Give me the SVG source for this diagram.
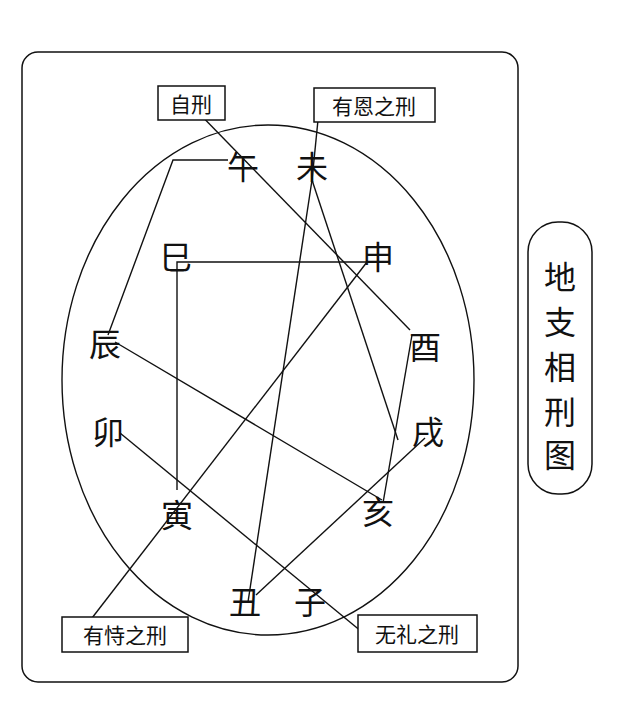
<svg xmlns="http://www.w3.org/2000/svg" width="640" height="708" viewBox="0 0 640 708">
<style>
.b{font-family:"Noto Sans CJK SC","Noto Sans CJK JP",sans-serif;font-size:32px;fill:#111;text-anchor:middle;dominant-baseline:central}
.l{font-family:"Noto Sans CJK SC",sans-serif;font-size:21px;fill:#111;text-anchor:middle;dominant-baseline:central}
.bx{fill:#fff;stroke:#111;stroke-width:1.5}
.c line,.c polyline{stroke:#111;stroke-width:1.4;fill:none}
</style>
<rect width="640" height="708" fill="#fff"/>
<rect x="22" y="52" width="496" height="630" rx="16" fill="none" stroke="#111" stroke-width="1.5"/>
<ellipse cx="268" cy="380" rx="206" ry="255" fill="none" stroke="#111" stroke-width="1.4"/>
<g id="title"><rect x="528" y="222" width="64" height="272" rx="30" class="bx"/>
<text class="b" x="560" y="275">地</text><text class="b" x="560" y="320">支</text><text class="b" x="560" y="365">相</text><text class="b" x="560" y="410">刑</text><text class="b" x="560" y="453">图</text></g>
<g class="c">
<line x1="190" y1="104" x2="410" y2="330"/>
<line x1="320" y1="100" x2="312" y2="180"/>
<line x1="312" y1="180" x2="248" y2="602"/>
<line x1="312" y1="180" x2="398" y2="440"/>
<line x1="425" y1="438" x2="256" y2="595"/>
<polyline points="177,490 177,262 370,262"/>
<line x1="367" y1="262" x2="92" y2="618"/>
<polyline points="108,335 173,160 228,160"/>
<line x1="115" y1="342" x2="382" y2="500"/>
<line x1="120" y1="433" x2="362" y2="632"/>
<line x1="412" y1="335" x2="383" y2="503"/>
</g>
<g id="n1"><rect x="158" y="86" width="67" height="34" class="bx"/><text class="l" x="191" y="103">自刑</text></g>
<g id="n2"><rect x="314" y="88" width="121" height="34" class="bx"/><text class="l" x="374" y="105">有恩之刑</text></g>
<g id="n3"><rect x="62" y="617" width="126" height="35" class="bx"/><text class="l" x="125" y="634">有恃之刑</text></g>
<g id="n4"><rect x="358" y="615" width="119" height="37" class="bx"/><text class="l" x="417" y="633">无礼之刑</text></g>
<g id="branches">
<text class="b" x="243" y="165">午</text><text class="b" x="312" y="165">未</text>
<text class="b" x="176" y="255">巳</text><text class="b" x="378" y="255">申</text>
<text class="b" x="105" y="342">辰</text><text class="b" x="425" y="345">酉</text>
<text class="b" x="108" y="430">卯</text><text class="b" x="428" y="430">戌</text>
<text class="b" x="177" y="513">寅</text><text class="b" x="378" y="510">亥</text>
<text class="b" x="245" y="600">丑</text><text class="b" x="310" y="600">子</text>
</g>
</svg>
